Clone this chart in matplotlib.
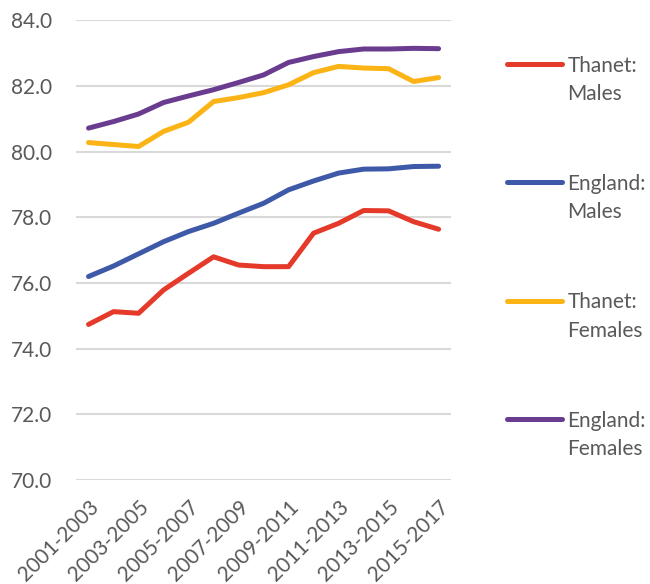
import matplotlib.pyplot as plt
from matplotlib.lines import Line2D

plt.rcParams['font.family'] = ['Lato', 'DejaVu Sans']

periods = ['2001-2003', '2002-2004', '2003-2005', '2004-2006', '2005-2007',
           '2006-2008', '2007-2009', '2008-2010', '2009-2011', '2010-2012',
           '2011-2013', '2012-2014', '2013-2015', '2014-2016', '2015-2017']

thanet_males = [74.74, 75.13, 75.08, 75.79, 76.30, 76.80, 76.55, 76.50,
                76.50, 77.52, 77.82, 78.21, 78.20, 77.87, 77.64]
england_males = [76.20, 76.52, 76.89, 77.26, 77.57, 77.82, 78.13, 78.43,
                 78.84, 79.11, 79.35, 79.47, 79.48, 79.55, 79.56]
thanet_females = [80.28, 80.22, 80.16, 80.62, 80.90, 81.53, 81.65, 81.80,
                  82.04, 82.41, 82.60, 82.55, 82.53, 82.14, 82.26]
england_females = [80.72, 80.92, 81.15, 81.50, 81.70, 81.89, 82.11, 82.34,
                   82.72, 82.90, 83.05, 83.13, 83.13, 83.15, 83.14]

labels = ['Thanet:\nMales', 'England:\nMales', 'Thanet:\nFemales', 'England:\nFemales']
colors = ['#E5392A', '#3D59A7', '#FBB316', '#6A3C8F']
series = [thanet_males, england_males, thanet_females, england_females]

text_col = '#595959'
fs = 15

fig = plt.figure(figsize=(6.5, 5.84), dpi=100)
ax = fig.add_axes([0.117, 0.178, 0.577, 0.787])

x = range(len(periods))
for vals, c in zip(series, colors):
    ax.plot(x, vals, color=c, lw=3.6, solid_capstyle='round', solid_joinstyle='round', zorder=3)

ax.set_ylim(70, 84)
ax.set_xlim(-0.5, len(periods) - 0.5)
ax.set_yticks(range(70, 85, 2))
ax.set_yticklabels([f'{v:.1f}' for v in range(70, 85, 2)])
ax.yaxis.grid(True, color='#D9D9D9', lw=1.5)
ax.set_axisbelow(True)
for s in ax.spines.values():
    s.set_visible(False)

ax.set_xticks(list(x)[::2])
ax.set_xticklabels(periods[::2], rotation=45, ha='right', rotation_mode='anchor')
ax.tick_params(axis='x', length=0, pad=12, labelsize=fs, labelcolor=text_col)
ax.tick_params(axis='y', length=0, pad=17, labelsize=fs, labelcolor=text_col)

# legend down the right-hand side: key line level with the middle of the first text line
h = fig.get_figheight() * fig.dpi
ys = [0.890, 0.688, 0.4846, 0.2825]
for lab, c, yy in zip(labels, colors, ys):
    fig.add_artist(Line2D([0.7795, 0.864], [yy, yy], color=c, lw=3.6,
                          solid_capstyle='round', transform=fig.transFigure))
    for i, part in enumerate(lab.split('\n')):
        fig.text(0.873, yy - (7.5 + 28.5 * i) / h, part, color=text_col,
                 fontsize=fs, va='baseline', ha='left')

fig.savefig('out.png', dpi=100)
